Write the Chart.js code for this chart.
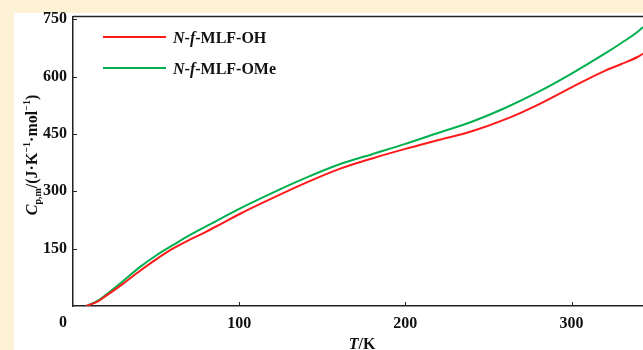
<!DOCTYPE html>
<html>
<head>
<meta charset="utf-8">
<script src="https://cdn.jsdelivr.net/npm/chart.js@4"></script>
<style>
  html, body { margin: 0; padding: 0; background: #fdf2d5; }
  #panel { position: absolute; left: 14px; top: 13px; width: 629px; height: 337px; background: #fff; }
  #cpChart { position: absolute; left: 14px; top: 1px; display: block; }
</style>
</head>
<body>
<div id="panel"></div>
<canvas id="cpChart" width="629" height="349"></canvas>
<script>
// temperature (K) and heat capacity
const temps = [8, 15, 20, 30, 40, 50, 60, 70, 80, 90, 100, 120, 140, 160, 180, 200, 220, 240, 260, 280, 300, 320, 330, 340, 343];
const cpOH  = [0, 12, 27, 58, 91, 122, 150, 173, 194, 217, 240, 282, 322, 358, 386, 411, 434, 457, 488, 527, 572, 615, 633, 652, 660];
const cpOMe = [0, 14, 30, 65, 101, 132, 159, 185, 208, 231, 254, 296, 335, 370, 397, 424, 453, 482, 518, 560, 608, 660, 688, 718, 730];
const xTicks = [100, 200, 300];
const yTicks = [150, 300, 450, 600, 750];

const serif = '"Liberation Serif", "Times New Roman", serif';

// draw a run of text pieces: [text, style, size, dy]
function richText(ctx, parts, x, y) {
  let cx = x;
  parts.forEach(([t, style, size, dy]) => {
    ctx.font = style + ' ' + size + 'px ' + serif;
    ctx.fillText(t, cx, y + (dy || 0));
    cx += ctx.measureText(t).width;
  });
  return cx - x;
}
function richWidth(ctx, parts) {
  let w = 0;
  parts.forEach(([t, style, size]) => {
    ctx.font = style + ' ' + size + 'px ' + serif;
    w += ctx.measureText(t).width;
  });
  return w;
}

const decorations = {
  id: 'decorations',
  afterDraw(chart) {
    const ctx = chart.ctx;
    const area = chart.chartArea;
    const xs = chart.scales.x, ys = chart.scales.y;
    ctx.save();
    ctx.strokeStyle = '#222';
    ctx.lineWidth = 1.5;
    // top frame
    ctx.beginPath();
    ctx.moveTo(area.left, area.top);
    ctx.lineTo(area.right, area.top);
    ctx.stroke();
    // inward ticks
    ctx.lineWidth = 1;
    xTicks.forEach(v => {
      const px = Math.round(xs.getPixelForValue(v)) + 0.5;
      ctx.beginPath();
      ctx.moveTo(px, area.bottom);
      ctx.lineTo(px, area.bottom - 4);
      ctx.stroke();
    });
    yTicks.forEach(v => {
      const py = Math.round(ys.getPixelForValue(v)) + 0.5;
      ctx.beginPath();
      ctx.moveTo(area.left, py);
      ctx.lineTo(area.left + 4, py);
      ctx.stroke();
    });

    ctx.fillStyle = '#111';
    ctx.textBaseline = 'alphabetic';
    // origin label
    ctx.font = 'bold 16px ' + serif;
    ctx.textAlign = 'center';
    ctx.fillText('0', 49, 326);
    ctx.textAlign = 'left';

    // x title
    const xt = [['T', 'italic bold', 16], ['/K', 'bold', 16]];
    richText(ctx, xt, 348 - richWidth(ctx, xt) / 2, 348);

    // y title, rotated
    const yt = [['C', 'italic bold', 16], ['p,m', 'bold', 10, 4], ['/(J\u00b7K', 'bold', 16],
      ['\u22121', 'bold', 10, -7], ['\u00b7mol', 'bold', 16], ['\u22121', 'bold', 10, -7], [')', 'bold', 16]];
    ctx.save();
    ctx.translate(23, 154);
    ctx.rotate(-Math.PI / 2);
    richText(ctx, yt, -richWidth(ctx, yt) / 2, 0);
    ctx.restore();

    // legend
    const items = [
      { color: '#ff1a1a', y: 36, label: [['N', 'italic bold', 16], ['-', 'bold', 16], ['f', 'italic bold', 16], ['-MLF-OH', 'bold', 16]] },
      { color: '#00b04f', y: 67, label: [['N', 'italic bold', 16], ['-', 'bold', 16], ['f', 'italic bold', 16], ['-MLF-OMe', 'bold', 16]] }
    ];
    items.forEach(it => {
      ctx.strokeStyle = it.color;
      ctx.lineWidth = 2;
      ctx.beginPath();
      ctx.moveTo(89, it.y);
      ctx.lineTo(152, it.y);
      ctx.stroke();
      ctx.fillStyle = '#111';
      richText(ctx, it.label, 159, it.y + 6);
    });
    ctx.restore();
  }
};

new Chart(document.getElementById('cpChart').getContext('2d'), {
  type: 'line',
  data: {
    datasets: [
      {
        label: 'N-f-MLF-OH',
        data: temps.map((t, i) => ({ x: t, y: cpOH[i] })),
        borderColor: '#ff1a1a',
        borderWidth: 2,
        pointRadius: 0,
        cubicInterpolationMode: 'monotone',
        fill: false
      },
      {
        label: 'N-f-MLF-OMe',
        data: temps.map((t, i) => ({ x: t, y: cpOMe[i] })),
        borderColor: '#00b04f',
        borderWidth: 2,
        pointRadius: 0,
        cubicInterpolationMode: 'monotone',
        fill: false
      }
    ]
  },
  options: {
    responsive: false,
    animation: false,
    layout: { padding: 0 },
    plugins: { legend: { display: false }, tooltip: { enabled: false } },
    scales: {
      x: {
        type: 'linear',
        min: 0,
        max: 343,
        grid: { display: false, drawTicks: false },
        border: { display: true, color: '#222', width: 1.5 },
        afterBuildTicks: s => { s.ticks = xTicks.map(v => ({ value: v })); },
        afterFit: s => { s.height = 44; },
        ticks: { color: '#111', padding: 8, maxRotation: 0, font: { family: serif, size: 16, weight: 'bold' } }
      },
      y: {
        type: 'linear',
        min: 0,
        max: 757,
        grid: { display: false, drawTicks: false },
        border: { display: true, color: '#222', width: 1.5 },
        afterBuildTicks: s => { s.ticks = yTicks.map(v => ({ value: v })); },
        afterFit: s => { s.width = 59; },
        ticks: { color: '#111', padding: 6, font: { family: serif, size: 16, weight: 'bold' } }
      }
    }
  },
  plugins: [decorations]
});
</script>
</body>
</html>
